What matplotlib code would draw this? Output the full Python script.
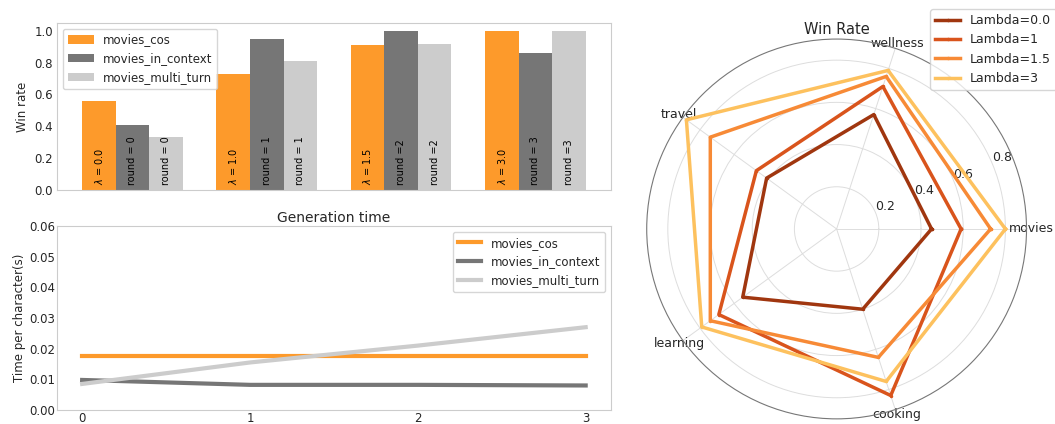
import numpy as np
import matplotlib
matplotlib.use('Agg')
import matplotlib.pyplot as plt

# bar chart data (win rate)
groups = [0, 1, 2, 3]
win_cos = [0.56, 0.73, 0.91, 1.0]
win_in_context = [0.41, 0.95, 1.0, 0.86]
win_multi_turn = [0.33, 0.81, 0.92, 1.0]
labels_cos = ['$\\lambda$ = 0.0', '$\\lambda$ = 1.0', '$\\lambda$ = 1.5', '$\\lambda$ = 3.0']
labels_in_context = ['round = 0', 'round = 1', 'round =2', 'round = 3']
labels_multi_turn = ['round = 0', 'round = 1', 'round =2', 'round =3']
win_ticks = [0.0, 0.2, 0.4, 0.6, 0.8, 1.0]

# generation time data
steps = [0, 1, 2, 3]
time_cos = [0.0175, 0.0175, 0.0175, 0.0175]
time_in_context = [0.0098, 0.0082, 0.0082, 0.0080]
time_multi_turn = [0.0085, 0.0155, 0.0210, 0.0270]

# radar data
topics = ['movies', 'wellness', 'travel', 'learning', 'cooking']
lambda_names = ['Lambda=0.0', 'Lambda=1', 'Lambda=1.5', 'Lambda=3']
radar_values = {
    'Lambda=0.0': [0.45, 0.57, 0.41, 0.55, 0.40],
    'Lambda=1': [0.59, 0.71, 0.47, 0.69, 0.83],
    'Lambda=1.5': [0.73, 0.76, 0.74, 0.74, 0.64],
    'Lambda=3': [0.80, 0.79, 0.88, 0.79, 0.76],
}
radar_ticks = [0.2, 0.4, 0.6, 0.8]

c_cos = '#fd9a2b'
c_ctx = '#767676'
c_multi = '#cccccc'
lambda_colors = ['#a0360f', '#d9541c', '#f78a36', '#fdc15e']

txt = '#262626'
plt.rcParams['font.family'] = 'DejaVu Sans'
plt.rcParams['text.color'] = txt
plt.rcParams['axes.labelcolor'] = txt
plt.rcParams['xtick.color'] = txt
plt.rcParams['ytick.color'] = txt
plt.rcParams['axes.edgecolor'] = '#cccccc'

fig = plt.figure(figsize=(10.55, 4.24), dpi=100)

# ---- top: win rate bars
ax1 = fig.add_axes([0.054, 0.552, 0.525, 0.394])
w = 0.25
x = np.array(groups)
ax1.bar(x - w, win_cos, w, color=c_cos, label='movies_cos')
ax1.bar(x, win_in_context, w, color=c_ctx, label='movies_in_context')
ax1.bar(x + w, win_multi_turn, w, color=c_multi, label='movies_multi_turn')
for i in range(len(groups)):
    ax1.text(x[i] - w, 0.03, labels_cos[i], rotation=90, ha='center', va='bottom', fontsize=7, color='black')
    ax1.text(x[i], 0.03, labels_in_context[i], rotation=90, ha='center', va='bottom', fontsize=7, color='black')
    ax1.text(x[i] + w, 0.03, labels_multi_turn[i], rotation=90, ha='center', va='bottom', fontsize=7, color='black')
ax1.set_xticks([])
ax1.set_yticks(win_ticks)
ax1.set_yticklabels(['%.1f' % t for t in win_ticks])
ax1.set_ylabel('Win rate', fontsize=8.5)
ax1.tick_params(axis='y', labelsize=8.5, length=0, pad=3)
ax1.legend(loc='upper left', fontsize=8.5, frameon=True, handlelength=2.2)

# ---- bottom: generation time
ax2 = fig.add_axes([0.054, 0.033, 0.525, 0.434])
ax2.plot(steps, time_cos, color=c_cos, lw=3, label='movies_cos')
ax2.plot(steps, time_in_context, color=c_ctx, lw=3, label='movies_in_context')
ax2.plot(steps, time_multi_turn, color=c_multi, lw=3, label='movies_multi_turn')
ax2.set_ylim(0, 0.06)
ax2.set_xticks(steps)
ax2.set_title('Generation time', fontsize=10, pad=3)
ax2.set_ylabel('Time per character(s)', fontsize=8.5, labelpad=2)
ax2.tick_params(labelsize=8.5, length=0, pad=1.5)
ax2.legend(loc='upper right', fontsize=8.5, frameon=True)

# ---- right: radar
ax3 = fig.add_axes([0.613, 0.012, 0.360, 0.896], projection='polar')
angles = np.linspace(0, 2 * np.pi, len(topics), endpoint=False)
ang_closed = np.concatenate([angles, angles[:1]])
for name, col in zip(lambda_names, lambda_colors):
    vals = radar_values[name]
    ax3.plot(ang_closed, vals + vals[:1], color=col, lw=2.5, marker='.', markersize=3, label=name)
ax3.set_xticks(angles)
ax3.set_xticklabels(topics, fontsize=9)
ax3.tick_params(axis='x', pad=-7)
ax3.set_ylim(0, 0.9)
ax3.set_yticks(radar_ticks)
ax3.set_yticklabels(['%.1f' % t for t in radar_ticks], fontsize=9)
ax3.grid(color='#dddddd', lw=0.7)
ax3.spines['polar'].set_color('#777777')
ax3.spines['polar'].set_linewidth(0.8)
ax3.set_title('Win Rate', fontsize=10.5, pad=1)
ax3.legend(loc='upper right', bbox_to_anchor=(1.095, 1.095), fontsize=9, frameon=True)

fig.savefig('out.png', dpi=100)
